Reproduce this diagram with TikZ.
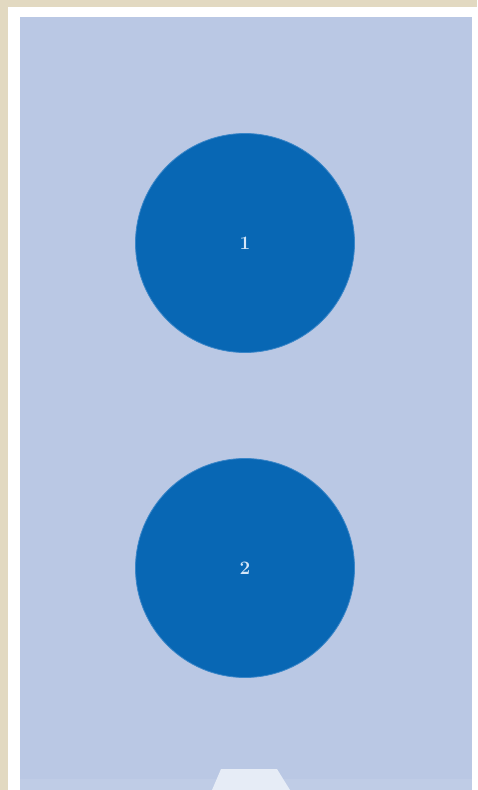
\documentclass[tikz,border=0pt]{standalone}
\begin{document}
\begin{tikzpicture}[x=1pt,y=-1pt,
  disc/.style={circle,fill=discblue,draw=discedge,line width=0.8pt,minimum size=219pt,inner sep=0pt,
    text=disctext,font=\fontsize{19}{22}\selectfont\bfseries}]
\definecolor{beige}{HTML}{E2D9C1}
\definecolor{panel}{HTML}{BAC8E4}
\definecolor{discblue}{HTML}{0867B4}
\definecolor{discedge}{HTML}{3A86C8}
\definecolor{disctext}{HTML}{D4E6F8}
\definecolor{tab}{HTML}{E6ECF6}
\useasboundingbox (0,0) rectangle (477,790);
\fill[beige] (0,0) rectangle (477,790);
\fill[white] (8,7) rectangle (477,790);
\fill[panel] (20,17) rectangle (472,790);
\fill[panel!93!white] (20,779) rectangle (472,790);
\fill[tab] (212,790) -- (221,769) -- (277,769) -- (290,790) -- cycle;
\node[disc] (n1) at (245,243) {1};
\node[disc] (n2) at (245,568) {2};
\end{tikzpicture}
\end{document}
